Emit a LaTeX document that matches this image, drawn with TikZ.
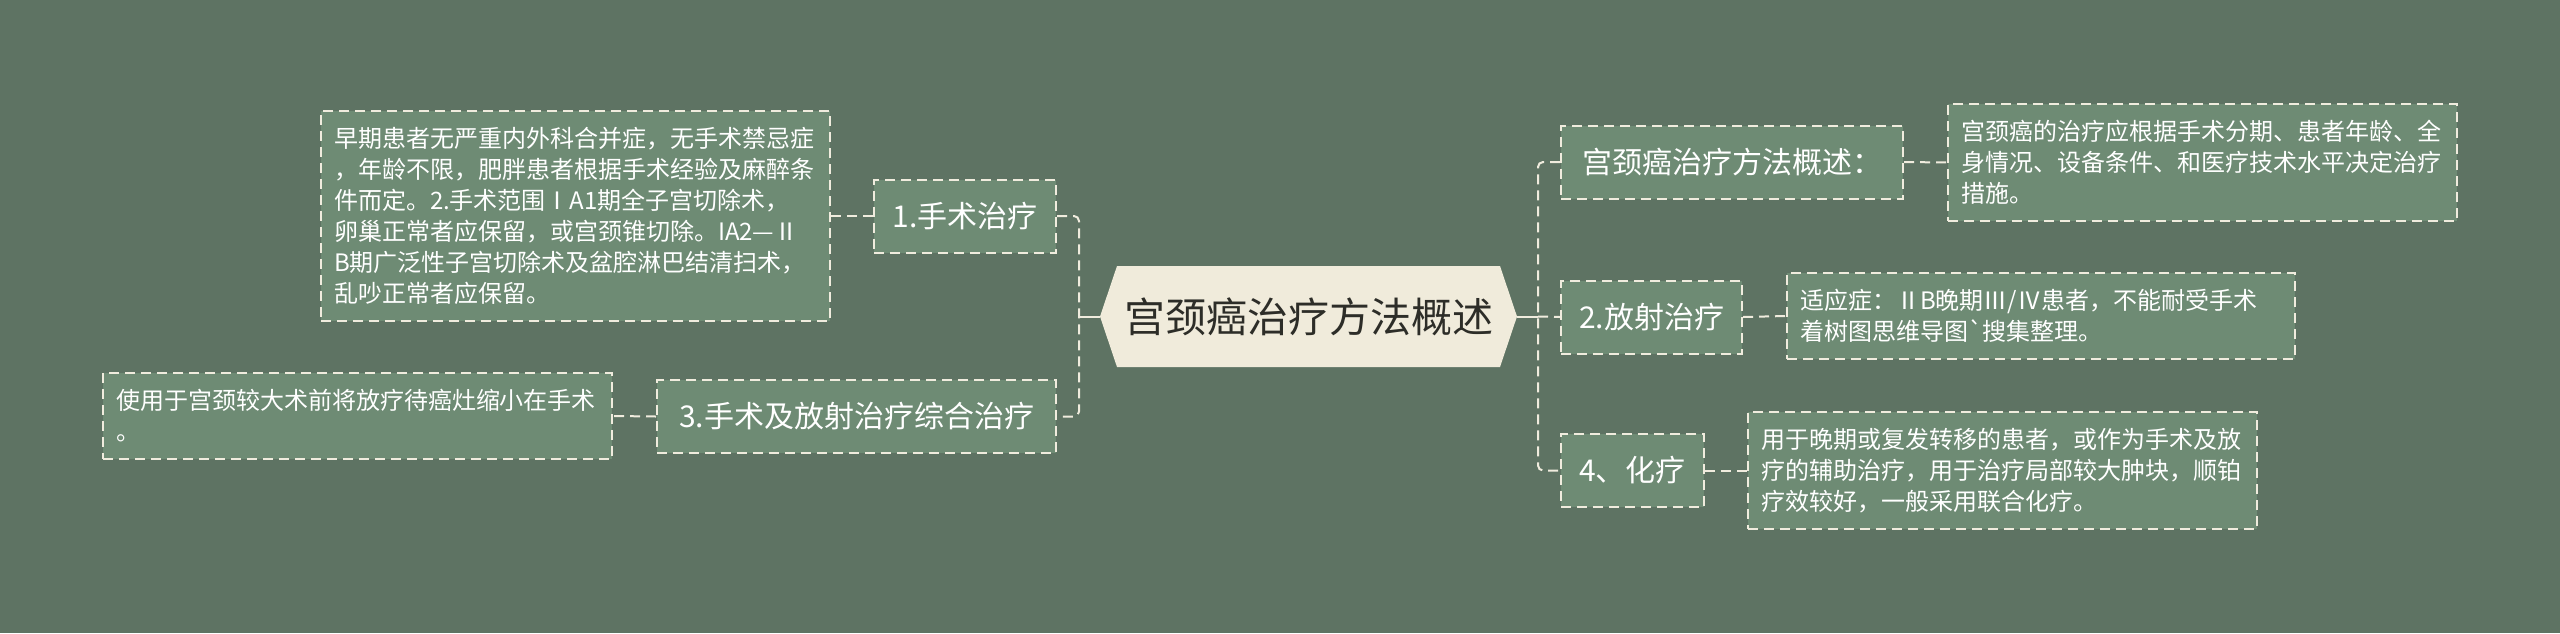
\documentclass[tikz,border=0pt]{standalone}
\usepackage{fontspec}
\newfontfamily\cjk{Noto Sans CJK SC}
\definecolor{bgc}{RGB}{94,115,99}
\definecolor{boxc}{RGB}{110,139,116}
\definecolor{linec}{RGB}{240,236,222}
\definecolor{hexc}{RGB}{240,235,219}
\definecolor{hextext}{RGB}{45,45,40}
\tikzset{
  dashline/.style={draw=linec, line width=2pt, dash pattern=on 10pt off 6pt},
  conn/.style={dashline, rounded corners=5pt},
  stub/.style={draw=linec, line width=2pt},
  topic/.style={dashline, fill=boxc, text=white, inner sep=0pt,
    font=\cjk\fontsize{30}{36}\selectfont, minimum height=73pt},
  note/.style={dashline, fill=boxc, text=white, align=left,
    inner xsep=13pt, inner ysep=0pt, font=\cjk\fontsize{24}{31}\selectfont},
  hexnode/.style={fill=bgc, inner sep=0pt, text=hextext,
    font=\cjk\fontsize{41}{48}\selectfont,
    minimum width=417pt, minimum height=101pt,
    path picture={\fill[hexc] (path picture bounding box.west)
      -- ([xshift=17pt]path picture bounding box.north west)
      -- ([xshift=-17pt]path picture bounding box.north east)
      -- (path picture bounding box.east)
      -- ([xshift=-17pt]path picture bounding box.south east)
      -- ([xshift=17pt]path picture bounding box.south west) -- cycle;}},
}
\begin{document}
\begin{tikzpicture}[x=1pt,y=-1pt]
\fill[bgc] (0,0) rectangle (2560,633);
\useasboundingbox (0,0) rectangle (2560,633);

% centre
\node[hexnode] (c) at (1308.5,316.5) {宫颈癌治疗方法概述};

% left topics
\node[topic, minimum width=182pt] (n1) at (965,216) {1.手术治疗};
\node[topic, minimum width=399pt] (n3) at (856.5,416.5) {3.手术及放射治疗综合治疗};

% right topics
\node[topic, minimum width=342pt] (na) at (1732,162) {宫颈癌治疗方法概述：};
\node[topic, minimum width=181pt] (n2) at (1651.5,317) {2.放射治疗};
\node[topic, minimum width=143pt] (n4) at (1632.5,470.5) {4、化疗};

% notes
\node[note, text width=483pt, minimum height=210pt] (t1) at (575.5,216)
  {早期患者无严重内外科合并症，无手术禁忌症\\，年龄不限，肥胖患者根据手术经验及麻醉条\\件而定。2.手术范围ⅠA1期全子宫切除术，\\卵巢正常者应保留，或宫颈锥切除。IA2—Ⅱ\\B期广泛性子宫切除术及盆腔淋巴结清扫术，\\乱吵正常者应保留。};
\node[note, text width=483pt, minimum height=86pt] (t3) at (357.5,416)
  {使用于宫颈较大术前将放疗待癌灶缩小在手术\\。};
\node[note, text width=483pt, minimum height=117pt] (ta) at (2202.5,162.5)
  {宫颈癌的治疗应根据手术分期、患者年龄、全\\身情况、设备条件、和医疗技术水平决定治疗\\措施。};
\node[note, text width=482pt, minimum height=86pt] (t2) at (2041,316)
  {适应症：ⅡB晚期Ⅲ/Ⅳ患者，不能耐受手术\\着树图思维导图`搜集整理。};
\node[note, text width=483pt, minimum height=117pt] (t4) at (2002.5,470.5)
  {用于晚期或复发转移的患者，或作为手术及放\\疗的辅助治疗，用于治疗局部较大肿块，顺铂\\疗效较好，一般采用联合化疗。};

% bracket points
\coordinate (lb) at (1079,316.5);
\coordinate (rb) at (1538,316.5);

% left bracket
\draw[conn] (n1.east) -| (lb) |- (n3.east);
\draw[stub] (lb) -- (c.west);
% right bracket
\draw[conn] (na.west) -| (rb) |- (n4.west);
\draw[stub] (c.east) -- (rb);
\draw[conn] (rb) -- (n2.west);

% topic to note
\draw[conn] (n1.west) -- (t1.east);
\draw[conn] (n3.west) -- (t3.east);
\draw[conn] (na.east) -- (ta.west);
\draw[conn] (n2.east) -- (t2.west);
\draw[conn] (n4.east) -- (t4.west);
\end{tikzpicture}
\end{document}
